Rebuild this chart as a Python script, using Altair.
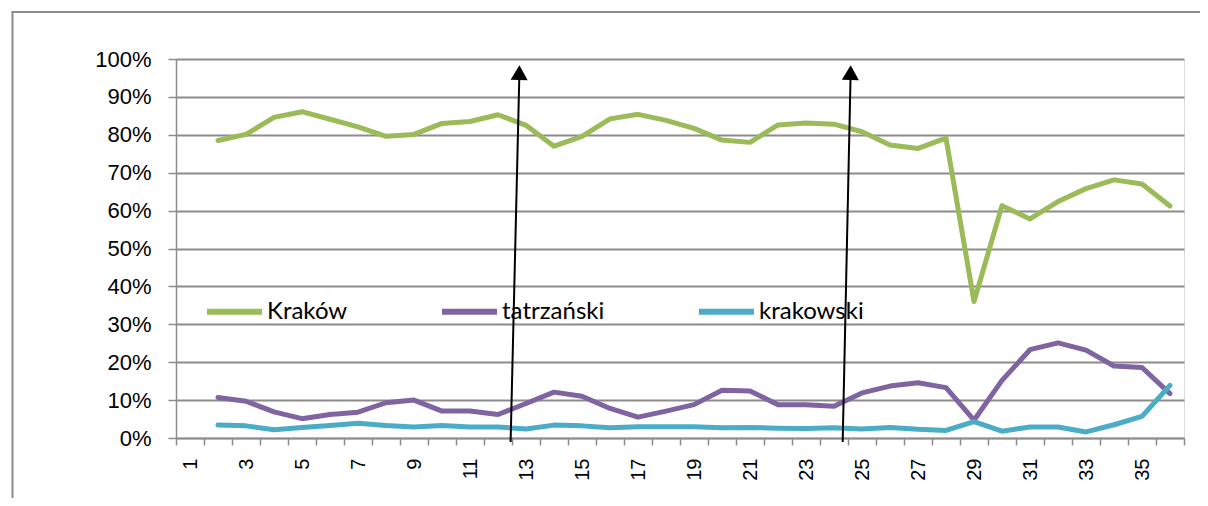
import altair as alt
import pandas as pd

categories = list(range(1, 37))
krakow = [None, 78.5, 80.1, 84.6, 86.1, 84.1, 82.1, 79.6, 80.1, 83.0, 83.5, 85.3, 82.5, 77.0, 79.6,
          84.2, 85.4, 83.8, 81.7, 78.6, 78.0, 82.6, 83.1, 82.8, 80.8, 77.3, 76.4, 79.1, 36.0, 61.3,
          57.8, 62.4, 65.8, 68.1, 67.0, 61.2]
tatrzanski = [None, 10.7, 9.7, 6.9, 5.1, 6.2, 6.8, 9.3, 10.0, 7.1, 7.1, 6.2, 9.1, 12.1, 11.0,
              7.8, 5.5, 7.1, 8.8, 12.6, 12.4, 8.8, 8.8, 8.4, 11.9, 13.7, 14.6, 13.3, 4.7, 15.2,
              23.3, 25.1, 23.2, 19.0, 18.6, 11.7]
krakowski = [None, 3.4, 3.2, 2.2, 2.8, 3.3, 3.9, 3.3, 2.9, 3.3, 2.9, 2.9, 2.4, 3.4, 3.2,
             2.7, 3.0, 3.0, 3.0, 2.7, 2.8, 2.6, 2.5, 2.7, 2.4, 2.8, 2.3, 2.0, 4.3, 1.8,
             2.9, 2.9, 1.6, 3.5, 5.7, 13.9]
series_names = ["Kraków", "tatrzański", "krakowski"]
series_colors = ["#9BBB59", "#8064A2", "#4BACC6"]
y_ticks = list(range(0, 101, 10))

# annotation arrows (x in band units from the left edge, y in %)
arrow_x_bottom = [11.95, 23.81]
arrow_x_top = [12.26, 24.09]
arrow_y_bottom = [-1.06, -1.06]
arrow_y_top = [95.0, 95.0]
arrow_head_y = [96.4, 96.4]

rows = []
for name, vals in zip(series_names, [krakow, tatrzanski, krakowski]):
    for c, v in zip(categories, vals):
        if v is not None:
            rows.append({"cat": c, "series": name, "value": v})
df = pd.DataFrame(rows)

arrows = pd.DataFrame({"x0": arrow_x_bottom, "x1": arrow_x_top,
                       "y0": arrow_y_bottom, "y1": arrow_y_top, "yh": arrow_head_y})

W, H = 1008, 379
GRID = "#8c8c8c"

y_scale = alt.Scale(domain=[0, 100], nice=False)
y_axis = alt.Axis(title=None, values=y_ticks, labelExpr="datum.value + '%'",
                  labelFont="Liberation Sans", labelFontSize=22, labelColor="black",
                  labelPadding=17, tickSize=8, tickColor=GRID, tickWidth=1.5,
                  domainColor=GRID, domainWidth=1.5, gridColor=GRID, gridWidth=1.8,
                  grid=True)

lines = alt.Chart(df).mark_line(strokeWidth=5, strokeCap="round", strokeJoin="round").encode(
    x=alt.X("cat:O", bandPosition=0.5,
            scale=alt.Scale(type="band", domain=categories, paddingInner=0, paddingOuter=0),
            axis=alt.Axis(title=None, tickBand="extent", labelAngle=-90,
                          labelExpr="datum.value % 2 == 1 ? datum.label : ''",
                          labelOverlap=False, labelFont="Liberation Sans", labelFontSize=20,
                          labelColor="black", labelPadding=13, tickSize=7, tickColor=GRID,
                          tickWidth=1.5, domainColor=GRID, domainWidth=1.5, grid=False)),
    y=alt.Y("value:Q", scale=y_scale, axis=y_axis),
    color=alt.Color("series:N", sort=series_names,
                    scale=alt.Scale(domain=series_names, range=series_colors),
                    legend=alt.Legend(orient="none", legendX=28, legendY=222,
                                      direction="horizontal", title=None,
                                      symbolType="stroke", symbolSize=3025,
                                      symbolStrokeWidth=6, labelFont="Lato",
                                      labelFontSize=24, labelColor="black",
                                      columnPadding=82, labelOffset=2, padding=0)),
    order=alt.Order("cat:O"),
)

ax_scale = alt.Scale(domain=[0, 36], nice=False, zero=False)

arrow_lines = alt.Chart(arrows).mark_rule(color="black", strokeWidth=2).encode(
    x=alt.X("x0:Q", scale=ax_scale, axis=None),
    x2="x1:Q",
    y=alt.Y("y0:Q", scale=y_scale, axis=y_axis),
    y2="y1:Q",
)

arrow_heads = alt.Chart(arrows).mark_point(shape="triangle-up", filled=True, color="black",
                                           size=290, opacity=1, angle=1.3).encode(
    x=alt.X("x1:Q", scale=ax_scale, axis=None),
    y=alt.Y("yh:Q", scale=y_scale, axis=y_axis),
)

frame_src = pd.DataFrame({"a": [0]})
frame_left = alt.Chart(frame_src).mark_rule(color=GRID, strokeWidth=2).encode(
    x=alt.value(-163.5), y=alt.value(-47), y2=alt.value(520))
frame_top = alt.Chart(frame_src).mark_rule(color=GRID, strokeWidth=2).encode(
    x=alt.value(-164.5), x2=alt.value(1200), y=alt.value(-47))

chart = alt.layer(frame_left, frame_top, lines, arrow_lines, arrow_heads).resolve_scale(
    x="independent").properties(
    width=W, height=H,
    autosize=alt.AutoSizeParams(type="none"),
    padding={"left": 168, "top": 51, "right": 16, "bottom": 60},
).configure_view(strokeWidth=0).configure(background="white")

chart.save("out.html", embed_options={"renderer": "svg", "actions": False})
